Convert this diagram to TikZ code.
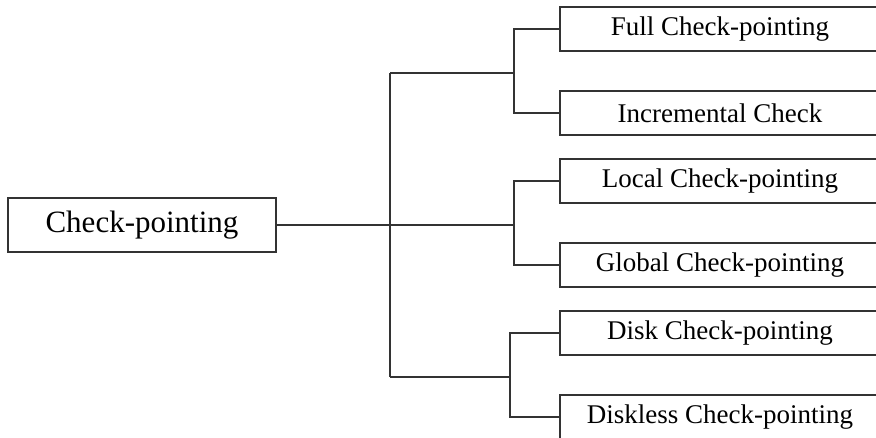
\documentclass[tikz,border=0pt]{standalone}
\usepackage{fontspec}
\setmainfont{Liberation Serif}
\begin{document}
\begin{tikzpicture}[x=1pt,y=-1pt,
  line/.style={draw=black!80, line width=1.4pt},
  rootbox/.style={line, minimum width=268pt, minimum height=54pt, inner sep=0pt,
    font=\fontsize{31}{35}\selectfont},
  leaf/.style={line, minimum width=320pt, minimum height=44pt, inner sep=0pt,
    font=\fontsize{27}{31}\selectfont}]
\useasboundingbox (0,0) rectangle (876,438);
\clip (0,0) rectangle (876,438);
\fill[white] (0,0) rectangle (876,438);

% root and leaves
\node[rootbox] (root) at (142,225) {Check-pointing};
\node[leaf] (full) at (720,29)  {Full Check-pointing};
\node[leaf] (incr) at (720,113) {Incremental Check};
\node[leaf] (loc)  at (720,181) {Local Check-pointing};
\node[leaf] (glob) at (720,265) {Global Check-pointing};
\node[leaf] (disk) at (720,333) {Disk Check-pointing};
\node[leaf] (dless) at (720,417) {Diskless Check-pointing};

% junction points of the tree
\coordinate (j1) at (390,73);
\coordinate (j2) at (390,225);
\coordinate (j3) at (390,377);
\coordinate (b1) at (514,73);
\coordinate (b2) at (514,225);
\coordinate (b3) at (510,377);

% trunk and branches
\draw[line] (root.east) -- (j2);
\draw[line] (j1) -- (j3);
\draw[line] (j1) -- (b1);
\draw[line] (j2) -- (b2);
\draw[line] (j3) -- (b3);

% brackets to the leaves
\draw[line] (full.west) -| (b1) |- (incr.west);
\draw[line] (loc.west) -| (b2) |- (glob.west);
\draw[line] (disk.west) -| (b3) |- (dless.west);
\end{tikzpicture}
\end{document}
